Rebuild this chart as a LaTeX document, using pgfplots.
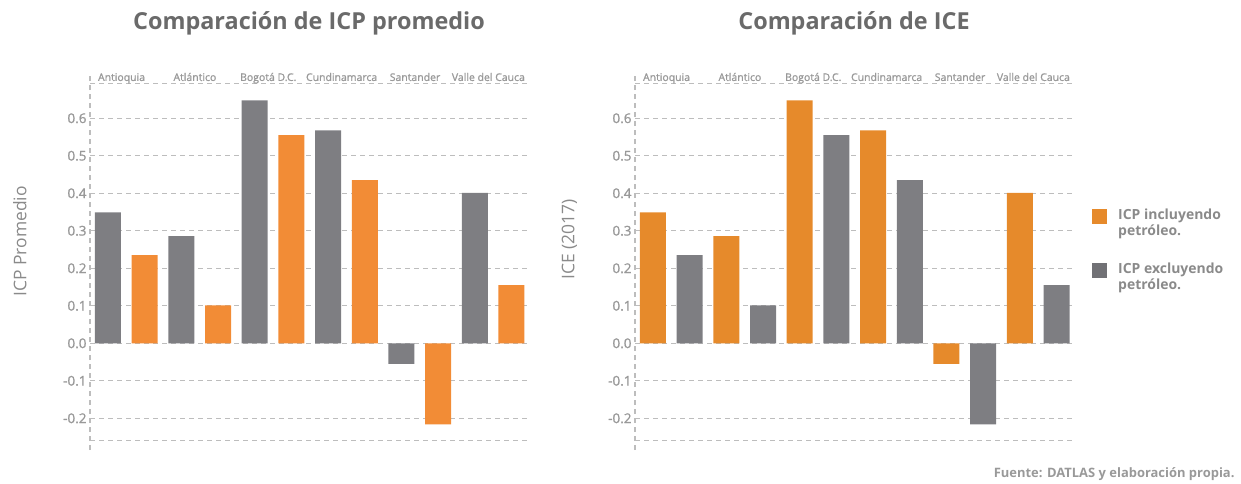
\documentclass[border=0pt]{standalone}
\usepackage{fontspec}
\setmainfont{Open Sans}
\newfontfamily\semib{Open Sans}[FakeBold=1.2]
\usepackage{pgfplots}
\pgfplotsset{compat=1.18}
\definecolor{ogA}{HTML}{F28C36}
\definecolor{ogB}{HTML}{E68A2B}
\definecolor{grb}{HTML}{7E7E82}
\definecolor{gridc}{HTML}{BDBDBD}
\definecolor{tickc}{HTML}{999999}
\definecolor{titlec}{HTML}{6A6A6A}
\definecolor{labc}{HTML}{8A8A8A}

\pgfplotstableread{
x v
0 0.349
2 0.286
4 0.648
6 0.568
8 -0.055
10 0.401
}\first
\pgfplotstableread{
x v
1 0.235
3 0.101
5 0.555
7 0.435
9 -0.216
11 0.155
}\second

\tikzset{cat/.style={anchor=base, font=\semib\fontsize{10.5}{12}\selectfont, text=tickc}}

\pgfplotsset{
  panel/.style={
    scale only axis, width=438bp, height=376.2bp,
    anchor=south west,
    xmin=-0.49, xmax=11.45, ymin=-0.285, ymax=0.718,
    axis x line=none, axis y line*=left,
    y axis line style={draw=gridc, line width=1.2bp, dash pattern=on 5bp off 4bp},
    ytick={-0.2,-0.1,0,0.1,0.2,0.3,0.4,0.5,0.6},
    extra y ticks={-0.26,0.693}, extra y tick labels={{},{}},
    ymajorgrids,
    major grid style={draw=gridc, line width=1.2bp, dash pattern=on 5bp off 4bp},
    major tick length=0pt,
    yticklabel style={font=\semib\fontsize{13.5}{16}\selectfont, text=tickc,
      /pgf/number format/.cd, fixed, fixed zerofill, precision=1, assume math mode=true},
    title style={font=\fontsize{23.5}{28}\selectfont\bfseries, text=titlec,
      at={(axis description cs:0.5,1)}, anchor=center, yshift=45bp},
    every axis y label/.style={rotate=90, anchor=center,
      font=\fontsize{17.5}{20}\selectfont, text=labc},
    clip=false,
  },
}

\begin{document}
\begin{tikzpicture}
\useasboundingbox (0,0) rectangle (1241bp,484bp);

\begin{axis}[panel, at={(90bp,33.8bp)},
  title={Comparación de ICP promedio},
  ylabel={ICP Promedio},
  ylabel style={at={(axis description cs:-0.160,0.555)}}]
\addplot[ybar, bar width=26bp, bar shift=0pt, fill=grb, draw=none] table[x=x,y=v] {\first};
\addplot[ybar, bar width=26bp, bar shift=0pt, fill=ogA, draw=none] table[x=x,y=v] {\second};
\node[cat] at (axis cs:0.37,0.6995) {Antioquia};
\node[cat] at (axis cs:2.37,0.6995) {Atlántico};
\node[cat] at (axis cs:4.37,0.6995) {Bogotá D.C.};
\node[cat] at (axis cs:6.37,0.6995) {Cundinamarca};
\node[cat] at (axis cs:8.37,0.6995) {Santander};
\node[cat] at (axis cs:10.37,0.6995) {Valle del Cauca};
\end{axis}

\begin{axis}[panel, at={(635bp,33.8bp)},
  title={Comparación de ICE},
  ylabel={ICE (2017)},
  ylabel style={at={(axis description cs:-0.150,0.56)}},
  legend style={at={(axis description cs:1.0434,0.648)}, anchor=north west,
    draw=none, fill=none, inner sep=0pt, row sep=22bp, column sep=9bp,
    font=\fontsize{14}{16}\selectfont\bfseries, text=labc,
    cells={align=left}},
  legend cell align=left]
\addplot[ybar, bar width=26bp, bar shift=0pt, fill=ogB, draw=none,
  legend image code/.code={\fill[ogB] (0bp,-1bp) rectangle (15bp,14bp);}] table[x=x,y=v] {\first};
\addlegendentry{ICP incluyendo\\petróleo.}
\addplot[ybar, bar width=26bp, bar shift=0pt, fill=grb, draw=none,
  legend image code/.code={\fill[grb!90!black] (0bp,-1bp) rectangle (15bp,14bp);}] table[x=x,y=v] {\second};
\addlegendentry{ICP excluyendo\\petróleo.}
\node[cat] at (axis cs:0.37,0.6995) {Antioquia};
\node[cat] at (axis cs:2.37,0.6995) {Atlántico};
\node[cat] at (axis cs:4.37,0.6995) {Bogotá D.C.};
\node[cat] at (axis cs:6.37,0.6995) {Cundinamarca};
\node[cat] at (axis cs:8.37,0.6995) {Santander};
\node[cat] at (axis cs:10.37,0.6995) {Valle del Cauca};
\end{axis}

\node[anchor=base east, font=\fontsize{13}{15}\selectfont\bfseries, text=tickc]
  at (1238bp,7bp) {Fuente: DATLAS y elaboración propia.};
\end{tikzpicture}
\end{document}
